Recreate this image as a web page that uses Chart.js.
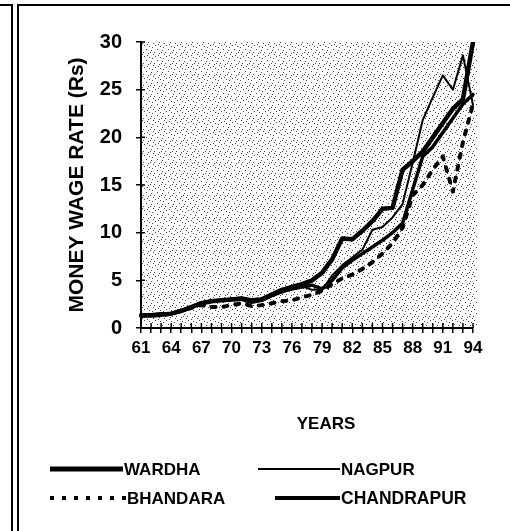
<!DOCTYPE html>
<html><head><meta charset="utf-8">
<script src="https://cdn.jsdelivr.net/npm/chart.js@4.4.1/dist/chart.umd.min.js"></script>
<style>
html,body{margin:0;padding:0;background:#fff;width:510px;height:531px;overflow:hidden}
#wrap{position:relative;width:510px;height:531px}
#c{position:absolute;left:0;top:0}
#ov{position:absolute;left:0;top:0;pointer-events:none}
</style></head>
<body><div id="wrap">
<canvas id="c" width="510" height="531"></canvas>
<svg id="ov" width="510" height="531" xmlns="http://www.w3.org/2000/svg">
  <line x1="12" y1="4" x2="12" y2="531" stroke="#000" stroke-width="2"/>
  <line x1="18" y1="4" x2="18" y2="531" stroke="#000" stroke-width="2"/>
  <line x1="0" y1="5" x2="12" y2="5" stroke="#000" stroke-width="2"/>
  <line x1="18" y1="5" x2="510" y2="5" stroke="#000" stroke-width="2"/>
  <g font-family="Liberation Sans, Arial, sans-serif" font-weight="bold" font-size="17" fill="#000">
    <text x="326" y="429" text-anchor="middle">YEARS</text>
    <line x1="50" y1="469" x2="123" y2="469" stroke="#000" stroke-width="5"/>
    <text x="124" y="475">WARDHA</text>
    <line x1="258" y1="469" x2="340" y2="469" stroke="#000" stroke-width="2"/>
    <text x="341" y="475">NAGPUR</text>
    <line x1="50" y1="498" x2="126" y2="498" stroke="#000" stroke-width="4" stroke-dasharray="4 8"/>
    <text x="127" y="504">BHANDARA</text>
    <line x1="275" y1="498" x2="340" y2="498" stroke="#000" stroke-width="4"/>
    <text x="341" y="504" font-size="17.5">CHANDRAPUR</text>
  </g>
</svg>
</div>
<script>
const years = ['61','62','63','64','65','66','67','68','69','70','71','72','73','74','75','76','77','78','79','80','81','82','83','84','85','86','87','88','89','90','91','92','93','94'];
const wardha = [1.3,1.3,1.4,1.5,1.8,2.2,2.6,2.8,2.9,3.0,3.1,2.9,3.0,3.5,4.0,4.3,4.6,5.0,5.8,7.2,9.4,9.3,10.2,11.2,12.5,12.6,16.6,17.5,18.5,20.0,21.5,23.0,24.0,30.0];
const nagpur = [1.3,1.4,1.4,1.6,1.9,2.3,2.7,2.9,3.0,3.1,3.2,2.9,3.1,3.6,4.0,4.2,4.4,4.0,4.0,5.5,6.6,7.4,8.2,10.3,10.6,11.6,13.0,17.3,21.8,24.2,26.5,25.0,28.6,23.4];
const bhandara = [1.3,1.3,1.4,1.5,1.8,2.1,2.4,2.2,2.2,2.4,2.6,2.3,2.4,2.6,2.8,2.9,3.2,3.5,3.9,4.6,5.2,5.6,6.2,6.9,7.8,8.9,10.5,13.9,15.0,16.6,18.0,14.3,19.5,23.5];
const chandrapur = [1.4,1.4,1.5,1.5,1.8,2.2,2.6,2.8,2.9,3.0,3.0,2.7,2.9,3.4,3.8,4.1,4.3,4.5,4.1,5.0,6.3,7.1,7.8,8.5,9.2,10.0,11.0,14.5,18.0,19.0,20.5,22.0,23.5,24.5];
const yTicks = [0,5,10,15,20,25,30];

const FONT = "'Liberation Sans', Arial, sans-serif";

function makePattern(){
  const p = document.createElement('canvas'); p.width = 11; p.height = 11;
  const g = p.getContext('2d');
  g.fillStyle = '#fff'; g.fillRect(0,0,11,11);
  g.fillStyle = '#4a4a4a';
  [[1,1],[6,2],[3,5],[8,6],[0,8],[5,9],[9,3],[10,10],[4,0],[7,8]].forEach(([a,b])=>g.fillRect(a,b,1,1));
  return p;
}
const stipple = {
  id:'stipple',
  beforeDraw(chart){
    const {ctx, chartArea:a} = chart;
    ctx.save();
    ctx.fillStyle = ctx.createPattern(makePattern(),'repeat');
    ctx.fillRect(a.left, a.top, a.right - a.left + 4, a.bottom - a.top);
    ctx.restore();
  }
};
const crossTicks = {
  id:'crossTicks',
  afterDatasetsDraw(chart){
    const {ctx, chartArea:a, scales:{x,y}} = chart;
    ctx.save(); ctx.strokeStyle = '#000'; ctx.lineWidth = 1.5;
    ctx.beginPath();
    x.ticks.forEach((t,i)=>{ const px = x.getPixelForTick(i); ctx.moveTo(px, a.bottom - 5); ctx.lineTo(px, a.bottom); });
    y.ticks.forEach((t,i)=>{ const py = y.getPixelForTick(i); ctx.moveTo(a.left, py); ctx.lineTo(a.left + 4, py); });
    ctx.stroke(); ctx.restore();
  }
};

new Chart(document.getElementById('c'), {
  type:'line',
  data:{
    labels: years,
    datasets:[
      {label:'WARDHA', data:wardha, borderColor:'#000', borderWidth:4.5},
      {label:'NAGPUR', data:nagpur, borderColor:'#000', borderWidth:2},
      {label:'BHANDARA', data:bhandara, borderColor:'#000', borderWidth:4, borderDash:[4,8]},
      {label:'CHANDRAPUR', data:chandrapur, borderColor:'#000', borderWidth:3.5}
    ]
  },
  options:{
    responsive:false, animation:false, devicePixelRatio:1,
    elements:{point:{radius:0}, line:{tension:0, borderJoinStyle:'round', borderCapStyle:'round'}},
    layout:{padding:{top:42, right:37, left:0, bottom:0}},
    plugins:{legend:{display:false}, tooltip:{enabled:false}},
    scales:{
      x:{
        type:'category', offset:false,
        grid:{display:true, drawOnChartArea:false, drawTicks:true, tickLength:5, color:'#000', lineWidth:1.5},
        border:{display:true, color:'#000', width:2},
        ticks:{autoSkip:false, maxRotation:0, minRotation:0, padding:5, color:'#000',
          font:{family:FONT, size:17, weight:'bold'},
          callback:(v,i)=> i % 3 === 0 ? years[i] : ''},
        afterFit:(s)=>{ s.height = 203; }
      },
      y:{
        min:0, max:30,
        afterBuildTicks:(s)=>{ s.ticks = yTicks.map(v=>({value:v})); },
        grid:{display:true, drawOnChartArea:false, drawTicks:true, tickLength:5, color:'#000', lineWidth:1.5},
        border:{display:true, color:'#000', width:2},
        ticks:{padding:14, color:'#000', font:{family:FONT, size:20, weight:'bold'}},
        title:{display:true, text:'MONEY WAGE RATE (Rs)', color:'#000', font:{family:FONT, size:21, weight:'bold'}, padding:{top:65, bottom:0}},
        afterFit:(s)=>{ s.width = 141; }
      }
    }
  },
  plugins:[stipple, crossTicks]
});
</script>
</body></html>
